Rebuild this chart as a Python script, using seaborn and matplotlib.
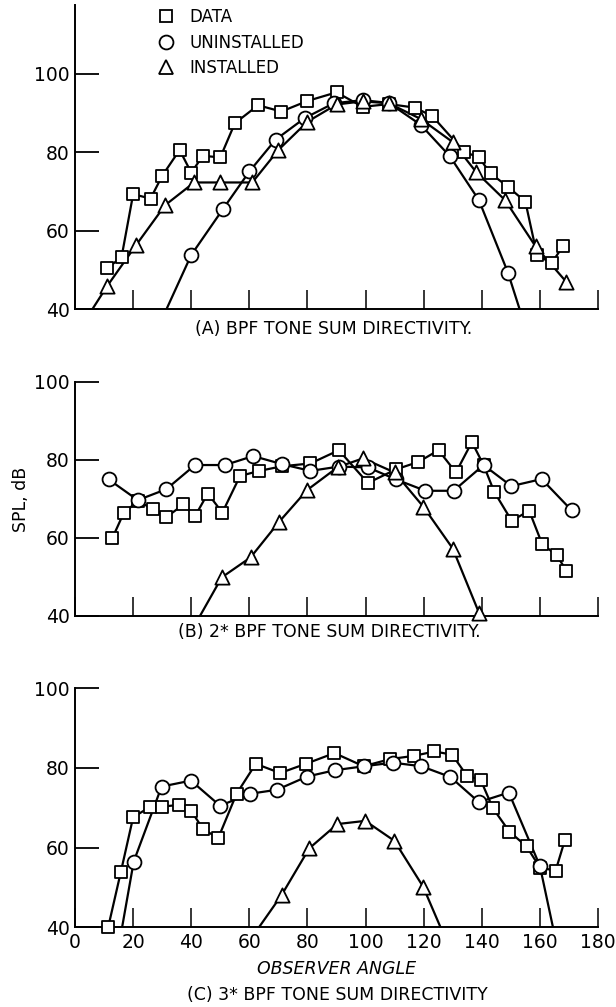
import matplotlib
matplotlib.use("Agg")
import matplotlib.pyplot as plt
from matplotlib.lines import Line2D
import seaborn as sns

# ---------------- data ----------------
# Panel A: BPF tone sum directivity
A_data_angle = [11, 16, 20, 26, 30, 36, 40, 44, 50, 55, 63, 71, 80, 90, 99, 108,
                117, 123, 134, 139, 143, 149, 155, 159, 164, 168]
A_data_spl = [50.4, 53.2, 69.3, 68.2, 74.0, 80.6, 74.8, 79.1, 78.7, 87.4, 92.0, 90.4,
              93.1, 95.3, 91.6, 92.3, 91.4, 89.2, 80.1, 78.7, 74.6, 71.2, 67.4, 53.8,
              51.7, 56.1]
A_unin_angle = [40, 51, 60, 69, 79, 89, 99, 108, 119, 129, 139, 149]
A_unin_spl = [53.8, 65.6, 75.1, 83.2, 88.7, 92.5, 93.3, 92.6, 87.0, 79.0, 67.8, 49.3]
A_unin_ends = [31.5, 153]
A_inst_angle = [11, 21, 31, 41, 50, 61, 70, 80, 90, 99, 108, 119, 130, 138, 148, 158.5, 169]
A_inst_spl = [45.8, 56.3, 66.5, 72.3, 72.3, 72.3, 80.6, 87.8, 92.2, 93.0, 92.5, 88.5,
              82.6, 75.0, 67.8, 56.0, 47.0]
A_inst_ends = [6, None]

# Panel B: 2* BPF tone sum directivity
B_data_angle = [12.8, 16.7, 21.6, 26.8, 31.4, 37.3, 41.3, 45.7, 50.7, 56.8, 63.4, 71.4,
                81.0, 90.8, 100.8, 110.5, 118.2, 125.1, 131.1, 136.6, 140.6, 144.3,
                150.3, 156.3, 160.8, 165.8, 169.1]
B_data_spl = [59.9, 66.3, 69.5, 67.4, 65.3, 68.6, 65.6, 71.4, 66.5, 75.9, 77.2, 78.4,
              79.1, 82.5, 74.1, 77.6, 79.5, 82.5, 76.8, 84.6, 78.7, 71.8, 64.4, 67.0,
              58.4, 55.6, 51.6]
B_unin_angle = [11.6, 21.6, 31.4, 41.3, 51.6, 61.3, 71.4, 81.0, 90.8, 100.8, 110.5,
                120.6, 130.3, 140.6, 150.2, 160.6, 170.9]
B_unin_spl = [75.0, 69.7, 72.5, 78.7, 78.7, 81.0, 78.9, 77.2, 78.3, 78.1, 75.0, 72.1,
              72.1, 78.7, 73.3, 75.1, 67.1]
B_unin_ends = [None, None]
B_inst_angle = [50.5, 60.4, 70.2, 79.9, 90.5, 99.1, 110.0, 119.9, 130.0, 139.1]
B_inst_spl = [49.9, 55.0, 64.1, 72.3, 78.2, 80.4, 76.8, 68.0, 57.3, 40.7]
B_inst_ends = [43, None]

# Panel C: 3* BPF tone sum directivity
C_data_angle = [11.4, 15.8, 20.0, 25.8, 30.1, 35.9, 39.9, 44.1, 49.3, 55.6, 62.2, 70.6,
                79.4, 89.3, 99.3, 108.5, 116.6, 123.7, 129.8, 134.9, 139.6, 143.8,
                149.5, 155.4, 160.0, 165.4, 168.6]
C_data_spl = [40.0, 54.0, 67.6, 70.2, 70.3, 70.7, 69.3, 64.6, 62.4, 73.5, 81.0, 78.7,
              81.0, 83.7, 80.4, 82.2, 83.0, 84.1, 83.3, 78.0, 77.0, 69.9, 64.0, 60.3,
              55.0, 54.2, 61.9]
C_unin_angle = [20.2, 29.8, 39.9, 49.9, 60.2, 69.5, 79.8, 89.4, 99.5, 109.3, 119.2,
                129.2, 139.0, 149.3, 160.0]
C_unin_spl = [56.5, 75.3, 76.8, 70.5, 73.5, 74.5, 77.8, 79.4, 80.4, 81.3, 80.4, 77.7,
              71.4, 73.8, 55.4]
C_unin_ends = [16.2, 164.5]
C_inst_angle = [71.1, 80.6, 90.3, 99.9, 109.9, 119.8]
C_inst_spl = [48.1, 59.8, 65.9, 66.7, 61.7, 50.2]
C_inst_ends = [63.3, 125.8]

legend_labels = ["DATA", "UNINSTALLED", "INSTALLED"]
captions = ["(A) BPF TONE SUM DIRECTIVITY.",
            "(B) 2* BPF TONE SUM DIRECTIVITY.",
            "(C) 3* BPF TONE SUM DIRECTIVITY"]
x_ticks = [0, 20, 40, 60, 80, 100, 120, 140, 160, 180]
y_ticks = [40, 60, 80, 100]

# ---------------- style ----------------
sns.set_style("ticks")
FONT = ["Liberation Sans Narrow", "DejaVu Sans"]
plt.rcParams["font.family"] = FONT
plt.rcParams["text.color"] = "black"
plt.rcParams["axes.labelcolor"] = "black"
plt.rcParams["xtick.color"] = "black"
plt.rcParams["ytick.color"] = "black"
plt.rcParams["axes.edgecolor"] = "black"

fig = plt.figure(figsize=(6.16, 10.07), dpi=100)
L, W = 0.1218, 0.849
axA = fig.add_axes([L, 0.6931, W, 0.302])
axB = fig.add_axes([L, 0.3883, W, 0.2324])
axC = fig.add_axes([L, 0.0791, W, 0.2376])

LW = 1.6
MEW = 1.3
marker_kw = dict(color="white", edgecolor="black", linewidth=MEW, zorder=3, clip_on=False)


def series(ax, xs, ys, marker, size, ends=(None, None)):
    lx, ly = list(xs), list(ys)
    if ends[0] is not None:
        lx = [ends[0]] + lx
        ly = [40] + ly
    if ends[1] is not None:
        lx = lx + [ends[1]]
        ly = ly + [40]
    sns.lineplot(x=lx, y=ly, ax=ax, color="black", linewidth=LW, sort=False,
                 estimator=None, zorder=2)
    sns.scatterplot(x=xs, y=ys, ax=ax, marker=marker, s=size, **marker_kw)


SQ, CI, TR = 85, 100, 105

series(axA, A_data_angle, A_data_spl, "s", SQ)
series(axA, A_unin_angle, A_unin_spl, "o", CI, A_unin_ends)
series(axA, A_inst_angle, A_inst_spl, "^", TR, A_inst_ends)

series(axB, B_data_angle, B_data_spl, "s", SQ)
series(axB, B_unin_angle, B_unin_spl, "o", CI, B_unin_ends)
series(axB, B_inst_angle, B_inst_spl, "^", TR, B_inst_ends)

series(axC, C_data_angle, C_data_spl, "s", SQ)
series(axC, C_unin_angle, C_unin_spl, "o", CI, C_unin_ends)
series(axC, C_inst_angle, C_inst_spl, "^", TR, C_inst_ends)

for ax, top in [(axA, 117.6), (axB, 100), (axC, 100)]:
    ax.set_xlim(0, 180)
    ax.set_ylim(40, top)
    ax.set_xticks(x_ticks)
    ax.set_yticks(y_ticks)
    sns.despine(ax=ax)
    for sp in ("left", "bottom"):
        ax.spines[sp].set_linewidth(1.4)
    ax.tick_params(axis="y", direction="in", length=17, width=1.3, labelsize=13.5, pad=4)
    ax.tick_params(axis="x", direction="in", length=14, width=1.1, labelsize=13.5, pad=4)
    ax.set_xlabel("")
    ax.set_ylabel("")

axA.tick_params(axis="x", labelbottom=False)
axB.tick_params(axis="x", labelbottom=False)

axB.set_ylabel("SPL, dB", fontsize=12.5, labelpad=3)
axC.set_xlabel("OBSERVER ANGLE", fontsize=12.5, fontstyle="italic", labelpad=6)

fig.text(0.542, 1 - 329 / 1007, captions[0], ha="center", va="center", fontsize=12.5)
fig.text(0.535, 1 - 632 / 1007, captions[1], ha="center", va="center", fontsize=12.5)
fig.text(0.547, 1 - 995 / 1007, captions[2], ha="center", va="center", fontsize=12.5)

handles = [Line2D([], [], linestyle="none", marker=m, markersize=ms,
                  markerfacecolor="white", markeredgecolor="black", markeredgewidth=MEW)
           for m, ms in [("s", 9.2), ("o", 10), ("^", 10.2)]]
axA.legend(handles, legend_labels, loc="upper left", bbox_to_anchor=(158 / 616, 1 - 8 / 1007),
           bbox_transform=fig.transFigure, frameon=False, fontsize=12, borderpad=0,
           borderaxespad=0, handlelength=1.0, handletextpad=0.9, labelspacing=0.45)

fig.savefig("out.png", dpi=100)
